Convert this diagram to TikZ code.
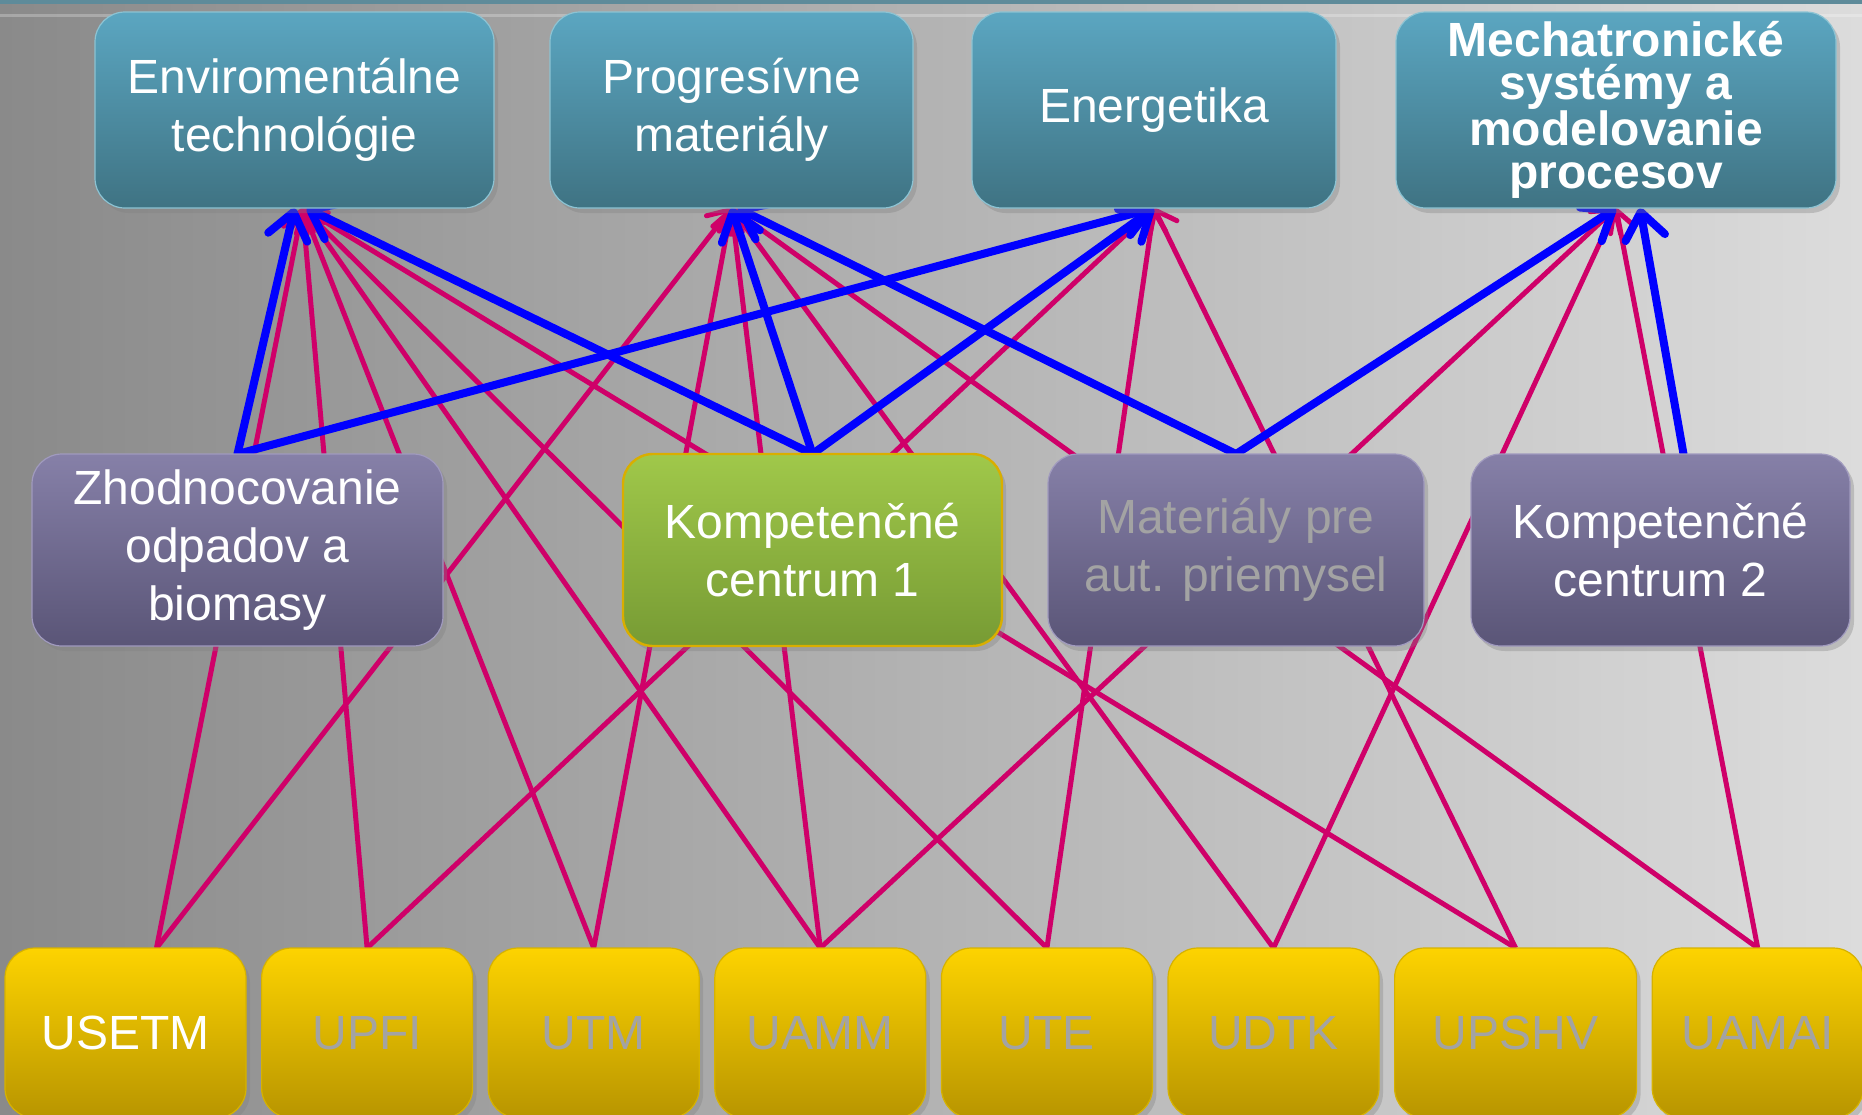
\documentclass[tikz,border=0pt]{standalone}
\usepackage{fontspec}
\setmainfont{Liberation Sans}
\usetikzlibrary{positioning,arrows.meta,shadows}
\definecolor{tealtop}{HTML}{5BA6C1}
\definecolor{tealbot}{HTML}{3F7383}
\definecolor{tealrim}{HTML}{8CC3D3}
\definecolor{violtop}{HTML}{8680A8}
\definecolor{violbot}{HTML}{5A5577}
\definecolor{violrim}{HTML}{A09ABE}
\definecolor{greentop}{HTML}{A0C84A}
\definecolor{greenbot}{HTML}{779B34}
\definecolor{goldrim}{HTML}{D9AE00}
\definecolor{yeltop}{HTML}{FDD300}
\definecolor{yelbot}{HTML}{B89500}
\definecolor{yelrim}{HTML}{D6B200}
\definecolor{fadedtext}{HTML}{A3A3A3}
\definecolor{linkred}{HTML}{CF0069}
\definecolor{bgleft}{HTML}{8A8A8A}
\definecolor{bgright}{HTML}{DCDCDC}
\definecolor{bandtop}{HTML}{5E8B9A}
\pgfdeclarelayer{backdrop}
\pgfdeclarelayer{wires}
\pgfsetlayers{backdrop,wires,main}
\tikzstyle{every node}=[font=\fontsize{48}{58}\selectfont,text=white,align=center]
\tikzstyle{box}=[rectangle,rounded corners=30pt,line width=1.2pt,inner sep=0pt,outer sep=0pt,
  drop shadow={opacity=0.35,shadow xshift=4pt,shadow yshift=-5pt}]
\tikzstyle{areabox}=[box,top color=tealtop,bottom color=tealbot,draw=tealrim,minimum height=196pt]
\tikzstyle{groupbox}=[box,top color=violtop,bottom color=violbot,draw=violrim,minimum height=192pt]
\tikzstyle{centrebox}=[groupbox,top color=greentop,bottom color=greenbot,draw=goldrim,line width=2.4pt]
\tikzstyle{unitbox}=[box,top color=yeltop,bottom color=yelbot,draw=yelrim,minimum width=211pt,minimum height=170pt]
\tikzstyle{faded}=[text=fadedtext]
\tikzstyle{redlink}=[draw=linkred,line width=5pt,-{Straight Barb[length=19pt,width=30pt,round]},
  preaction={draw=black,opacity=0.3,transform canvas={shift={(1.5pt,-1.5pt)}}}]
\tikzstyle{bluelink}=[draw=blue,line width=8pt,line cap=round,-{Straight Barb[length=26pt,width=40pt,round]},
  preaction={draw=black,opacity=0.3,transform canvas={shift={(1.5pt,-1.5pt)}}}]

\begin{document}
\begin{tikzpicture}[x=1pt,y=-1pt,node distance=15.6pt]
\useasboundingbox (0,0) rectangle (1862,1114);
\begin{pgfonlayer}{backdrop}
\shade[left color=bgleft,right color=bgright] (0,0) rectangle (1862,1114);
\fill[bandtop] (0,0) rectangle (1862,4);
\draw[white,opacity=0.25,line width=3pt] (0,15) -- (1862,15);
\end{pgfonlayer}

% fields of research
\node[areabox,minimum width=399pt] (T1) at (294.5,110) {Enviromentálne\\technológie};
\node[areabox,minimum width=363pt,right=56pt of T1] (T2) {Progresívne\\materiály};
\node[areabox,minimum width=364pt,right=59pt of T2] (T3) {Energetika};
\node[areabox,minimum width=440pt,right=60pt of T3,font=\bfseries\fontsize{48}{43}\selectfont] (T4) {Mechatronické\\systémy a\\modelovanie\\procesov};

% projects
\node[groupbox,minimum width=411pt] (M1) at (237.5,550) {Zhodnocovanie\\odpadov a\\biomasy};
\node[centrebox,minimum width=379pt,right=180pt of M1] (M2) {Kompetenčné\\centrum 1};
\node[groupbox,faded,minimum width=376pt,right=46pt of M2] (M3) {Materiály pre\\aut. priemysel};
\node[groupbox,minimum width=379pt,right=47pt of M3] (M4) {Kompetenčné\\centrum 2};

% institutes
\node[unitbox,minimum width=241pt] (B1) at (125.5,1033) {USETM};
\node[unitbox,faded,right=of B1] (B2) {UPFI};
\node[unitbox,faded,right=of B2] (B3) {UTM};
\node[unitbox,faded,right=of B3] (B4) {UAMM};
\node[unitbox,faded,right=of B4] (B5) {UTE};
\node[unitbox,faded,right=of B5] (B6) {UDTK};
\node[unitbox,faded,minimum width=242pt,right=of B6] (B7) {UPSHV};
\node[unitbox,faded,right=of B7] (B8) {UAMAI};

\begin{pgfonlayer}{wires}
\path[redlink] ([xshift=31pt]B1.north) edge ([xshift=8pt]T1.south) edge (T2.south)
  (B2.north) edge ([xshift=8pt]T1.south) edge (T3.south)
  (B3.north) edge ([xshift=8pt]T1.south) edge (T2.south)
  (B4.north) edge ([xshift=8pt]T1.south) edge (T2.south) edge (T4.south)
  (B5.north) edge ([xshift=8pt]T1.south) edge (T3.south)
  (B6.north) edge (T2.south) edge (T4.south)
  (B7.north) edge ([xshift=8pt]T1.south) edge (T3.south)
  (B8.north) edge (T2.south) edge (T4.south);
\path[bluelink] (M1.north) edge (T1.south) edge (T3.south)
  (M2.north) edge ([xshift=12pt]T1.south) edge (T2.south) edge (T3.south)
  (M3.north) edge ([xshift=6pt]T2.south) edge (T4.south)
  ([xshift=23pt]M4.north) edge ([xshift=24pt]T4.south);
\end{pgfonlayer}
\end{tikzpicture}
\end{document}
